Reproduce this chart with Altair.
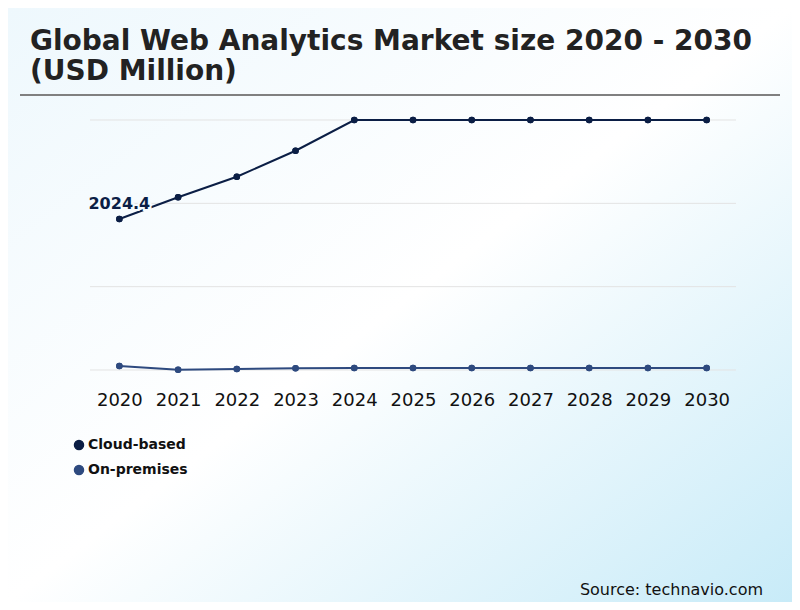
import altair as alt
import pandas as pd

# ---- data ----
years = [str(y) for y in range(2020, 2031)]
cloud_based = [2024.4, 2315, 2591, 2939, 3351, 3351, 3351, 3351, 3351, 3351, 3351]
on_premises = [54, 2, 13, 23, 27, 27, 27, 27, 27, 27, 27]
series_names = ["Cloud-based", "On-premises"]
series_colors = ["#0b1e45", "#2e4a7f"]
grid_values = [0, 1117, 2234, 3351]
title_lines = ["Global Web Analytics Market size 2020 - 2030", "(USD Million)"]
source_text = "Source: technavio.com"

rows = []
for y, c, o in zip(years, cloud_based, on_premises):
    rows.append({"year": y, "segment": "Cloud-based", "value": c})
    rows.append({"year": y, "segment": "On-premises", "value": o})
df = pd.DataFrame(rows)
one = pd.DataFrame({"k": [0]})

W, H = 646, 250
FONT = "DejaVu Sans"
BG_MID = "#f6fbfe"

yscale = alt.Scale(domain=[0, 3351], nice=False, zero=True)
xenc = alt.X(
    "year:O",
    sort=years,
    title=None,
    axis=alt.Axis(
        labelAngle=0, domain=False, ticks=False, tickSize=0, grid=False,
        labelFont=FONT, labelFontSize=18, labelColor="#111111",
        labelPadding=21, zindex=1,
    ),
)
yenc = alt.Y("value:Q", scale=yscale, axis=None, title=None)
color_scale = alt.Scale(domain=series_names, range=series_colors)

bg = alt.Chart(one).mark_rect(
    fill=alt.LinearGradient(
        gradient="linear",
        stops=[
            alt.GradientStop(color="#eef8fd", offset=0),
            alt.GradientStop(color="#ffffff", offset=0.5),
            alt.GradientStop(color="#c8ebf8", offset=1),
        ],
        x1=0, y1=0, x2=1, y2=1,
    )
).encode(x=alt.value(-82), x2=alt.value(702), y=alt.value(-112), y2=alt.value(482))

rule = alt.Chart(one).mark_rule(color="#808080", strokeWidth=2).encode(
    x=alt.value(-70), x2=alt.value(690), y=alt.value(-25)
)

title = alt.Chart(one).mark_text(
    text=title_lines, font=FONT, fontSize=28, fontWeight="bold", color="#222222",
    align="left", baseline="alphabetic", lineHeight=30,
).encode(x=alt.value(-60), y=alt.value(-70))

grid = alt.Chart(pd.DataFrame({"g": grid_values})).mark_rule(
    color="#e3e3e3", strokeWidth=1
).encode(y=alt.Y("g:Q", scale=yscale, axis=None), x=alt.value(0), x2=alt.value(W))

# points first: this layer carries the legend (first definition wins when merged)
points = alt.Chart(df).mark_circle(size=42, opacity=1).encode(
    x=xenc, y=yenc,
    color=alt.Color(
        "segment:N", scale=color_scale,
        legend=alt.Legend(
            orient="none", legendX=-18, legendY=318, direction="vertical", title=None,
            labelFont=FONT, labelFontSize=14, labelFontWeight="bold", labelColor="#111111",
            symbolType="circle", symbolSize=81, padding=0, rowPadding=9, labelOffset=2,
            zindex=1,
        ),
    ),
)

lines = alt.Chart(df).mark_line(strokeWidth=2).encode(
    x=xenc, y=yenc,
    color=alt.Color("segment:N", scale=color_scale, legend=None),
)

points_top = alt.Chart(df).mark_circle(size=42, opacity=1).encode(
    x=xenc, y=yenc,
    color=alt.Color("segment:N", scale=color_scale, legend=None),
)

lab_df = df[(df["year"] == "2020") & (df["segment"] == "Cloud-based")]
halo = alt.Chart(lab_df).mark_text(
    font=FONT, fontSize=16, fontWeight="bold", align="center", baseline="alphabetic",
    dy=-10, stroke=BG_MID, strokeWidth=4, color=BG_MID,
).encode(x=xenc, y=yenc, text=alt.Text("value:Q", format=".1f"))
label = alt.Chart(lab_df).mark_text(
    font=FONT, fontSize=16, fontWeight="bold", align="center", baseline="alphabetic",
    dy=-10, color="#0b1e45",
).encode(x=xenc, y=yenc, text=alt.Text("value:Q", format=".1f"))

src = alt.Chart(one).mark_text(
    text=source_text, font=FONT, fontSize=16, color="#111111",
    align="right", baseline="alphabetic",
).encode(x=alt.value(673), y=alt.value(475))

chart = alt.layer(bg, rule, title, grid, points, lines, points_top, halo, label, src).properties(
    width=W, height=H,
    padding={"left": 82, "top": 112, "right": 56, "bottom": 232},
    autosize=alt.AutoSizeParams(type="none"),
).configure_view(stroke="transparent").configure(background="white")

chart.save("out.html", embed_options={"renderer": "svg", "actions": False})
